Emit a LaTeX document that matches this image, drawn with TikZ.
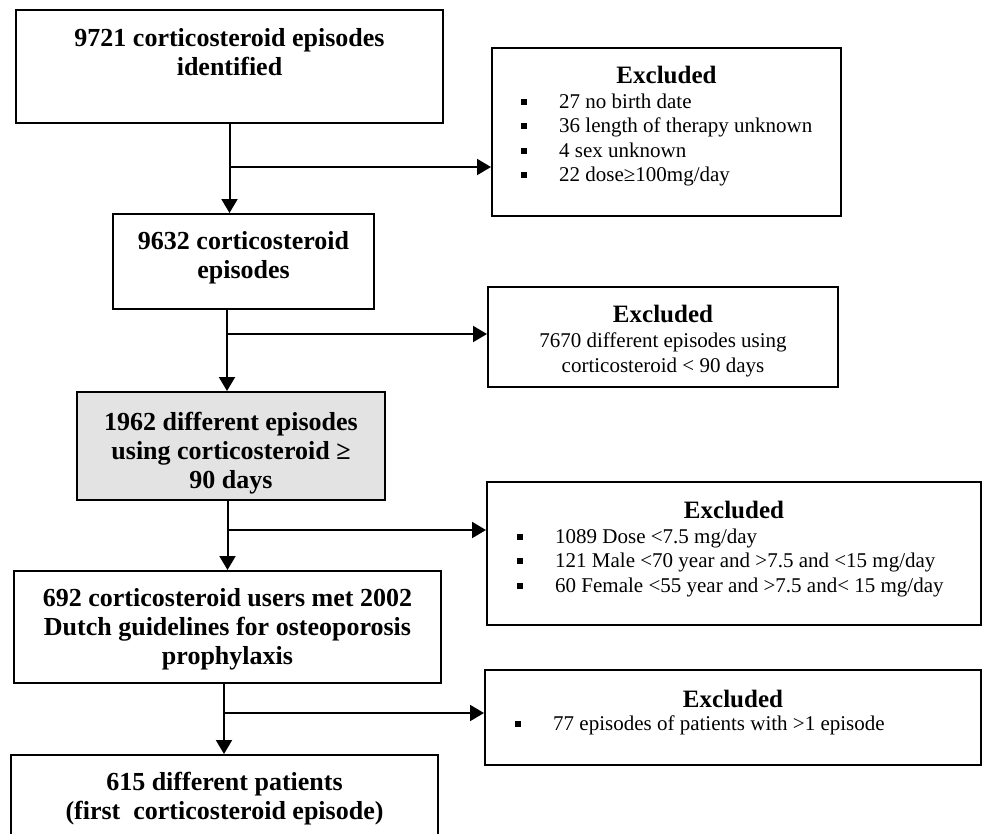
\documentclass[tikz,border=0pt]{standalone}
\usepackage{fontspec}
\setmainfont{Liberation Serif}
\usetikzlibrary{arrows.meta}
\newcommand{\sqbullet}{\rule[3.5pt]{6pt}{6pt}\hspace{32pt}}

\begin{document}
\begin{tikzpicture}[x=1pt,y=-1pt,
  frame/.style={draw,line width=2pt,inner sep=0pt},
  boxtext/.style={align=center,inner sep=0pt,anchor=north,font=\fontsize{26}{29}\selectfont\bfseries},
  exhead/.style={inner sep=0pt,anchor=north,font=\fontsize{25}{28}\selectfont\bfseries},
  extext/.style={align=left,inner sep=0pt,anchor=north west,font=\fontsize{21}{24.5}\selectfont},
  flow/.style={line width=2pt,-{Triangle[length=14pt,width=16pt]}}]
\definecolor{boxgray}{HTML}{E3E3E3}
\useasboundingbox (0,0) rectangle (982,833);
% main column
\node[frame,minimum width=427pt,minimum height=113pt] (b1) at (229.5,66.5) {};
\node[frame,minimum width=261pt,minimum height=95pt] (b2) at (243.5,261.5) {};
\node[frame,fill=boxgray,minimum width=308pt,minimum height=108pt] (b3) at (231,446) {};
\node[frame,minimum width=427pt,minimum height=112pt] (b4) at (227.5,627) {};
\node[frame,minimum width=427pt,minimum height=120pt] (b5) at (224.5,815) {};
\node[boxtext] (t1) at (229.5,28.5) {9721 corticosteroid episodes\\identified};
\node[boxtext] (t2) at (243.5,231.5) {9632 corticosteroid\\episodes};
\node[boxtext] (t3) at (231,411.5) {1962 different episodes\\using corticosteroid ≥\\90 days};
\node[boxtext] (t4) at (227.5,588.5) {692 corticosteroid users met 2002\\Dutch guidelines for osteoporosis\\prophylaxis};
\node[boxtext] (t5) at (224.5,771.5) {615 different patients\\(first\ \ corticosteroid episode)};
% excluded boxes
\node[frame,minimum width=349pt,minimum height=168pt] (e1) at (666.5,132) {};
\node[frame,minimum width=350pt,minimum height=100pt] (e2) at (663,337) {};
\node[frame,minimum width=494pt,minimum height=143pt] (e3) at (734,553.5) {};
\node[frame,minimum width=496pt,minimum height=95pt] (e4) at (733,717.5) {};
\node[exhead] (h1) at (666.5,65.7) {Excluded};
\node[extext] (l1) at (521,93.5) {\sqbullet 27 no birth date\\\sqbullet 36 length of therapy unknown\\\sqbullet 4 sex unknown\\\sqbullet 22 dose≥100mg/day};
\node[exhead] (h2) at (663,304.7) {Excluded};
\node[extext,align=center,anchor=north] (l2) at (663,332.7) {7670 different episodes using\\corticosteroid < 90 days};
\node[exhead] (h3) at (734,500.7) {Excluded};
\node[extext] (l3) at (517,528.5) {\sqbullet 1089 Dose <7.5 mg/day\\\sqbullet 121 Male <70 year and >7.5 and <15 mg/day\\\sqbullet 60 Female <55 year and >7.5 and< 15 mg/day};
\node[exhead] (h4) at (733,689.7) {Excluded};
\node[extext] (l4) at (515,715.5) {\sqbullet 77 episodes of patients with >1 episode};
% arrows
\coordinate (j1) at (229.5,167);
\coordinate (j2) at (227,334);
\coordinate (j3) at (227.5,530);
\coordinate (j4) at (224,713);
\draw[flow] (b1.south -| j1) -- (b2.north -| j1);
\draw[flow] (b2.south -| j2) -- (b3.north -| j2);
\draw[flow] (b3.south -| j3) -- (b4.north -| j3);
\draw[flow] (b4.south -| j4) -- (b5.north -| j4);
\foreach \j/\e in {j1/e1,j2/e2,j3/e3,j4/e4}
  \draw[flow] (\j) -- (\j -| \e.west);
\end{tikzpicture}
\end{document}
